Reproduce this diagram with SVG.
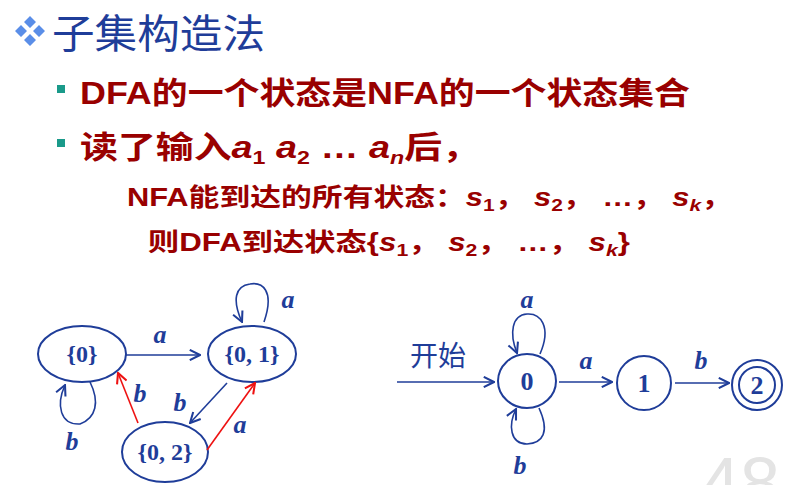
<svg xmlns="http://www.w3.org/2000/svg" width="790" height="485" viewBox="0 0 790 485">
<style>
.t{font-family:"Liberation Sans","Noto Sans CJK SC",sans-serif;fill:#990000;font-weight:bold}
.m{font-family:"Liberation Serif","Noto Sans CJK SC",serif;font-weight:bold;fill:#1f3d99}
.l{font-family:"Liberation Serif",serif;font-weight:bold;font-style:italic;fill:#1f3d99;font-size:26px}
.n{fill:none;stroke:#1f3d99;stroke-width:2}
.e{fill:none;stroke:#1f3d99;stroke-width:1.6}
.r{fill:none;stroke:#ee1111;stroke-width:1.6}
.i{font-style:italic}
</style>
<defs>
<marker id="ab" viewBox="0 0 10 10" refX="9" refY="5" markerWidth="8" markerHeight="8" orient="auto"><path d="M1,1 L9,5 L1,9" fill="none" stroke="#1f3d99" stroke-width="1.6"/></marker>
<marker id="ar" viewBox="0 0 10 10" refX="9" refY="5" markerWidth="8" markerHeight="8" orient="auto"><path d="M1,1 L9,5 L1,9" fill="none" stroke="#ee1111" stroke-width="1.6"/></marker>
</defs>
<rect width="790" height="485" fill="#fff"/>
<text x="700" y="508" font-family="Liberation Sans,sans-serif" font-size="72" fill="#e4e4e4">48</text>
<g id="title">
<path d="M30,16 l6,6 -6,6 -6,-6z M21,25 l6,6 -6,6 -6,-6z M39,25 l6,6 -6,6 -6,-6z M30,34 l6,6 -6,6 -6,-6z" fill="#5a8ee8"/>
<text x="52" y="48" font-size="40" font-family="'Noto Sans CJK SC',sans-serif" fill="#1f3d99" textLength="213" lengthAdjust="spacingAndGlyphs">子集构造法</text>
</g>
<g id="text">
<rect x="57" y="85" width="8" height="8" fill="#1a9a8a"/>
<rect x="57" y="139" width="8" height="8" fill="#1a9a8a"/>
<text class="t" x="80" y="104" font-size="31" textLength="610" lengthAdjust="spacingAndGlyphs">DFA的一个状态是NFA的一个状态集合</text>
<text class="t" x="80" y="158" font-size="31" textLength="400" lengthAdjust="spacingAndGlyphs">读了输入<tspan class="i">a</tspan><tspan font-size="19" dy="6">1</tspan><tspan dy="-6">  </tspan><tspan class="i">a</tspan><tspan font-size="19" dy="6">2</tspan><tspan dy="-6">  …  </tspan><tspan class="i">a</tspan><tspan class="i" font-size="19" dy="6">n</tspan><tspan dy="-6">后，</tspan></text>
<text class="t" x="127" y="206" font-size="25" textLength="605" lengthAdjust="spacingAndGlyphs">NFA能到达的所有状态：<tspan class="i">s</tspan><tspan font-size="17" dy="5">1</tspan><tspan dy="-5">， </tspan><tspan class="i">s</tspan><tspan font-size="17" dy="5">2</tspan><tspan dy="-5">， …，   </tspan><tspan class="i">s</tspan><tspan class="i" font-size="17" dy="5">k</tspan><tspan dy="-5">，</tspan></text>
<text class="t" x="148" y="251" font-size="25" textLength="482" lengthAdjust="spacingAndGlyphs">则DFA到达状态{<tspan class="i">s</tspan><tspan font-size="17" dy="5">1</tspan><tspan dy="-5">， </tspan><tspan class="i">s</tspan><tspan font-size="17" dy="5">2</tspan><tspan dy="-5">， …，   </tspan><tspan class="i">s</tspan><tspan class="i" font-size="17" dy="5">k</tspan><tspan dy="-5">}</tspan></text>
</g>
<g id="d0"><ellipse class="n" cx="82" cy="354" rx="44" ry="28"/><text class="m" x="82" y="362" font-size="24" text-anchor="middle">{0}</text></g>
<g id="d01"><ellipse class="n" cx="252" cy="354" rx="44" ry="28"/><text class="m" x="252" y="362" font-size="24" text-anchor="middle">{0, 1}</text></g>
<g id="d02"><ellipse class="n" cx="165" cy="452" rx="43" ry="30"/><text class="m" x="165" y="460" font-size="24" text-anchor="middle">{0, 2}</text></g>
<g id="s0"><ellipse class="n" cx="527" cy="381" rx="29" ry="27"/><text class="m" x="527" y="390" font-size="26" text-anchor="middle">0</text></g>
<g id="s1"><circle class="n" cx="644" cy="383" r="27"/><text class="m" x="644" y="392" font-size="26" text-anchor="middle">1</text></g>
<g id="s2"><circle class="n" cx="757" cy="385" r="25"/><circle class="n" cx="757" cy="385" r="18"/><text class="m" x="757" y="394" font-size="26" text-anchor="middle">2</text></g>
<g id="connectors">
<path class="e" d="M126,355 L200,355" marker-end="url(#ab)"/>
<path class="e" d="M264,322 C275,290 262,282 250,284 C235,286 232,300 242,322" marker-end="url(#ab)"/>
<path class="e" d="M90,382 C100,402 96,418 80,424 C60,425 56,405 65,385" marker-end="url(#ab)"/>
<path class="e" d="M227,383 L190,423" marker-end="url(#ab)"/>
<path class="r" d="M138,423 L118,373" marker-end="url(#ar)"/>
<path class="r" d="M207,450 L255,383" marker-end="url(#ar)"/>
<path class="e" d="M397,382 L494,382" marker-end="url(#ab)"/>
<path class="e" d="M559,382 L612,382" marker-end="url(#ab)"/>
<path class="e" d="M675,383 L729,383" marker-end="url(#ab)"/>
<path class="e" d="M540,354 C552,326 540,313 527,314 C512,315 509,333 517,353" marker-end="url(#ab)"/>
<path class="e" d="M539,408 C550,432 543,443 527,444 C510,444 508,425 516,409" marker-end="url(#ab)"/>
<text class="l" x="160" y="343" text-anchor="middle">a</text>
<text class="l" x="288" y="308" text-anchor="middle">a</text>
<text class="l" x="72" y="450" text-anchor="middle">b</text>
<text class="l" x="180" y="411" text-anchor="middle">b</text>
<text class="l" x="140" y="402" text-anchor="middle">b</text>
<text class="l" x="240" y="433" text-anchor="middle">a</text>
<text x="410" y="366" font-size="28" font-family="'Noto Sans CJK SC',sans-serif" fill="#1f3d99">开始</text>
<text class="l" x="527" y="308" text-anchor="middle">a</text>
<text class="l" x="520" y="474" text-anchor="middle">b</text>
<text class="l" x="586" y="369" text-anchor="middle">a</text>
<text class="l" x="701" y="369" text-anchor="middle">b</text>
</g>
</svg>
